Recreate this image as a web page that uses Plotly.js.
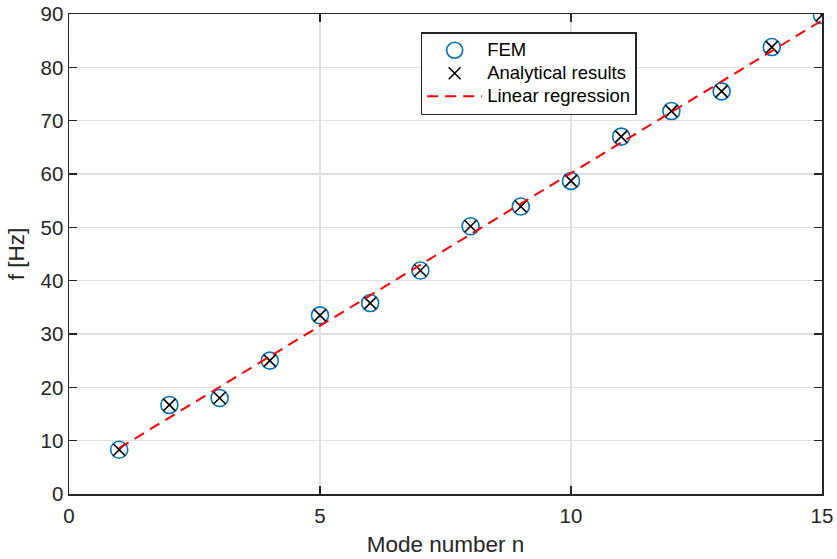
<!DOCTYPE html>
<html>
<head>
<meta charset="utf-8">
<script src="https://cdn.plot.ly/plotly-3.0.1.min.js"></script>
<style>html,body{margin:0;padding:0;background:#fff;}#chart{width:837px;height:559px;}</style>
</head>
<body>
<div id="chart"></div>
<script>
// Data
const modeNumbers = [1, 2, 3, 4, 5, 6, 7, 8, 9, 10, 11, 12, 13, 14, 15];
const femFreq = [8.3, 16.7, 18.0, 25.0, 33.5, 35.8, 41.9, 50.2, 53.9, 58.7, 67.0, 71.8, 75.5, 83.8, 89.8];
const analyticalFreq = [8.3, 16.7, 18.0, 25.0, 33.5, 35.8, 41.9, 50.2, 53.9, 58.7, 67.0, 71.8, 75.5, 83.8, 89.8];
const regressionX = [1, 15];
const regressionY = [8.6, 88.8];
const xTicks = [0, 5, 10, 15];
const yTicks = [0, 10, 20, 30, 40, 50, 60, 70, 80, 90];
const seriesNames = ['FEM', 'Analytical results', 'Linear regression'];

const axisColor = '#262626';
const family = 'Liberation Sans, Arial, sans-serif';
const tickFont = {family: family, size: 20.5, color: axisColor};
const titleFont = {family: family, size: 22.5, color: axisColor};
const legendName = s => '<span style="font-size:18.5px">' + s + '</span>';

const traces = [
  {
    x: modeNumbers, y: femFreq, name: legendName(seriesNames[0]), type: 'scatter', mode: 'markers',
    marker: {symbol: 'circle-open', size: 17, color: '#0072BD', line: {width: 1.6, color: '#0072BD'}}
  },
  {
    x: modeNumbers, y: analyticalFreq, name: legendName(seriesNames[1]), type: 'scatter', mode: 'markers',
    marker: {symbol: 'x-thin-open', size: 12, color: '#000000', line: {width: 1.6, color: '#000000'}}
  },
  {
    x: regressionX, y: regressionY, name: legendName(seriesNames[2]), type: 'scatter', mode: 'lines',
    line: {color: '#FF0000', width: 2, dash: '11px,7px'}
  }
];

const axisCommon = {
  showline: true, linecolor: axisColor, linewidth: 1.5, mirror: 'ticks',
  ticks: 'inside', ticklen: 8, tickwidth: 1.5, tickcolor: axisColor,
  showgrid: true, gridcolor: '#dfdfdf', gridwidth: 1.5,
  zeroline: false, tickfont: tickFont
};

const layout = {
  width: 837, height: 559,
  margin: {l: 69, r: 15, t: 14, b: 65},
  paper_bgcolor: '#ffffff', plot_bgcolor: '#ffffff',
  font: tickFont,
  showlegend: true,
  legend: {
    x: 0.467, y: 0.962, xanchor: 'left', yanchor: 'top',
    bgcolor: '#ffffff', bordercolor: axisColor, borderwidth: 1.5,
    font: {family: family, size: 15.4, color: '#000000'},
    itemwidth: 55, tracegroupgap: 0
  },
  xaxis: Object.assign({}, axisCommon, {
    range: [0, 15], tickmode: 'array', tickvals: xTicks, ticklabelstandoff: 3,
    title: {text: 'Mode number n', font: titleFont, standoff: 10}
  }),
  yaxis: Object.assign({}, axisCommon, {
    range: [0, 90], tickmode: 'array', tickvals: yTicks,
    title: {text: 'f [Hz]', font: titleFont, standoff: 9}
  })
};

Plotly.newPlot('chart', traces, layout, {displayModeBar: false, staticPlot: true});
</script>
</body>
</html>
